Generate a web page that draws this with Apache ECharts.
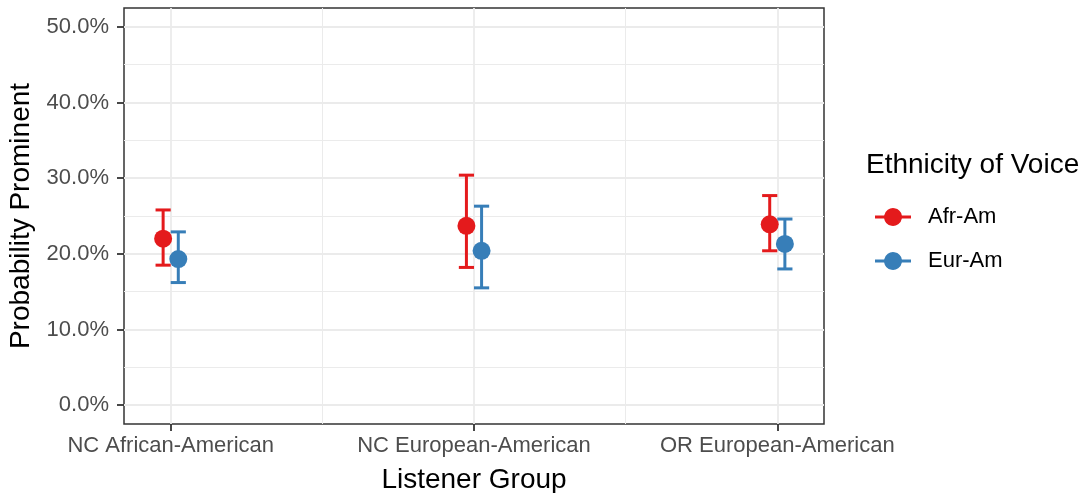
<!DOCTYPE html>
<html>
<head>
<meta charset="utf-8">
<script src="https://cdn.jsdelivr.net/npm/echarts@6/dist/echarts.min.js"></script>
<style>
  html, body { margin: 0; padding: 0; background: #fff; }
  #chart { width: 1086px; height: 493px; }
</style>
</head>
<body>
<div id="chart"></div>
<script>
// Listener groups on the x axis
const groups = ['NC African-American', 'NC European-American', 'OR European-American'];

// Probability prominent (%) with interval bounds, voice ethnicity Afr-Am
const afrMean = [22.0, 23.7, 23.9];
const afrLow  = [18.5, 18.2, 20.4];
const afrHigh = [25.8, 30.4, 27.7];

// Same for voice ethnicity Eur-Am
const eurMean = [19.3, 20.4, 21.3];
const eurLow  = [16.2, 15.5, 18.0];
const eurHigh = [22.9, 26.3, 24.6];

// Axis ticks and grid lines
const yTicks = [0, 10, 20, 30, 40, 50];
const yMinor = [5, 15, 25, 35, 45];
const xTicks = [1, 2, 3];
const xMinor = [1.5, 2.5];

const seriesNames = ['Afr-Am', 'Eur-Am'];
const colors = ['#E41A1C', '#377EB8'];

const FONT = 'Liberation Sans, Arial, Helvetica, sans-serif';
const DODGE = 0.025;      // horizontal shift of each group, in axis units
const CAP_HALF = 0.025;   // half width of error bar caps, in axis units

function rows(mean, low, high) {
  return mean.map((m, i) => [i + 1, m, low[i], high[i]]);
}

function pointRange(offset, color) {
  return function (params, api) {
    const x = api.value(0) + offset;
    const pm = api.coord([x, api.value(1)]);
    const pl = api.coord([x, api.value(2)]);
    const ph = api.coord([x, api.value(3)]);
    const capL = api.coord([x - CAP_HALF, api.value(3)])[0];
    const capR = api.coord([x + CAP_HALF, api.value(3)])[0];
    const lineStyle = { stroke: color, lineWidth: 3 };
    return {
      type: 'group',
      children: [
        { type: 'line', shape: { x1: pl[0], y1: pl[1], x2: ph[0], y2: ph[1] }, style: lineStyle },
        { type: 'line', shape: { x1: capL, y1: ph[1], x2: capR, y2: ph[1] }, style: lineStyle },
        { type: 'line', shape: { x1: capL, y1: pl[1], x2: capR, y2: pl[1] }, style: lineStyle },
        { type: 'circle', shape: { cx: pm[0], cy: pm[1], r: 9 }, style: { fill: color } }
      ]
    };
  };
}

// Legend key: a short line with a dot in the middle
const keyIcon = 'path://M0,7.5H9.126A9,9 0 0 1 26.874,7.5H36V10.5H26.874A9,9 0 0 1 9.126,10.5H0Z';

const gridLines = []
  .concat(xTicks.map(v => ({ xAxis: v, lineStyle: { width: 1.8 } })))
  .concat(xMinor.map(v => ({ xAxis: v, lineStyle: { width: 1 } })))
  .concat(yTicks.map(v => ({ yAxis: v, lineStyle: { width: 1.8 } })))
  .concat(yMinor.map(v => ({ yAxis: v, lineStyle: { width: 1 } })));

const chart = echarts.init(document.getElementById('chart'), null, { renderer: 'canvas' });

chart.setOption({
  animation: false,
  color: colors,
  textStyle: { fontFamily: FONT },
  grid: {
    left: 124, top: 8, width: 700, height: 416,
    outerBoundsMode: 'none',
    containLabel: false,
    show: true, borderColor: '#333333', borderWidth: 1.5,
    backgroundColor: 'transparent'
  },
  graphic: [{
    type: 'text',
    left: 866, top: 151,
    style: { text: 'Ethnicity of Voice', font: '28px ' + FONT, fill: '#000' }
  }],
  legend: {
    orient: 'vertical',
    left: 870, top: 201,
    itemWidth: 36, itemHeight: 18, itemGap: 22,
    data: seriesNames.map(n => ({ name: n, icon: keyIcon })),
    formatter: n => '{t|' + n + '}',
    textStyle: {
      rich: { t: { fontSize: 22, lineHeight: 22, fontFamily: FONT, color: '#000', padding: [0, 0, 0, 12] } }
    },
    selectedMode: false
  },
  xAxis: {
    type: 'value',
    min: 0.846, max: 3.154,
    name: 'Listener Group',
    nameLocation: 'middle',
    nameGap: 42,
    nameTextStyle: { fontSize: 28, color: '#000', fontFamily: FONT },
    axisLine: { show: false, onZero: false },
    splitLine: { show: false },
    axisTick: { show: true, customValues: xTicks, length: 7, lineStyle: { color: '#333', width: 1.8 } },
    axisLabel: {
      customValues: xTicks,
      formatter: v => groups[Math.round(v) - 1],
      fontSize: 22, color: '#4D4D4D', margin: 11, fontFamily: FONT
    }
  },
  yAxis: {
    type: 'value',
    min: -2.5, max: 52.5,
    name: 'Probability Prominent',
    nameLocation: 'middle',
    nameGap: 83,
    nameTextStyle: { fontSize: 28, color: '#000', fontFamily: FONT },
    axisLine: { show: false, onZero: false },
    splitLine: { show: false },
    axisTick: { show: true, customValues: yTicks, length: 7, lineStyle: { color: '#333', width: 1.8 } },
    axisLabel: {
      customValues: yTicks,
      formatter: v => v.toFixed(1) + '%',
      fontSize: 22, color: '#4D4D4D', margin: 15, fontFamily: FONT
    }
  },
  series: [
    {
      type: 'line',
      data: [],
      silent: true,
      z: 1,
      markLine: {
        silent: true,
        z: 1,
        symbol: 'none',
        label: { show: false },
        emphasis: { disabled: true },
        lineStyle: { color: '#EBEBEB', type: 'solid' },
        data: gridLines
      }
    },
    {
      name: seriesNames[0],
      type: 'custom',
      z: 3,
      itemStyle: { color: colors[0] },
      renderItem: pointRange(-DODGE, colors[0]),
      encode: { x: 0, y: [1, 2, 3] },
      data: rows(afrMean, afrLow, afrHigh)
    },
    {
      name: seriesNames[1],
      type: 'custom',
      z: 3,
      itemStyle: { color: colors[1] },
      renderItem: pointRange(DODGE, colors[1]),
      encode: { x: 0, y: [1, 2, 3] },
      data: rows(eurMean, eurLow, eurHigh)
    }
  ]
});
</script>
</body>
</html>
